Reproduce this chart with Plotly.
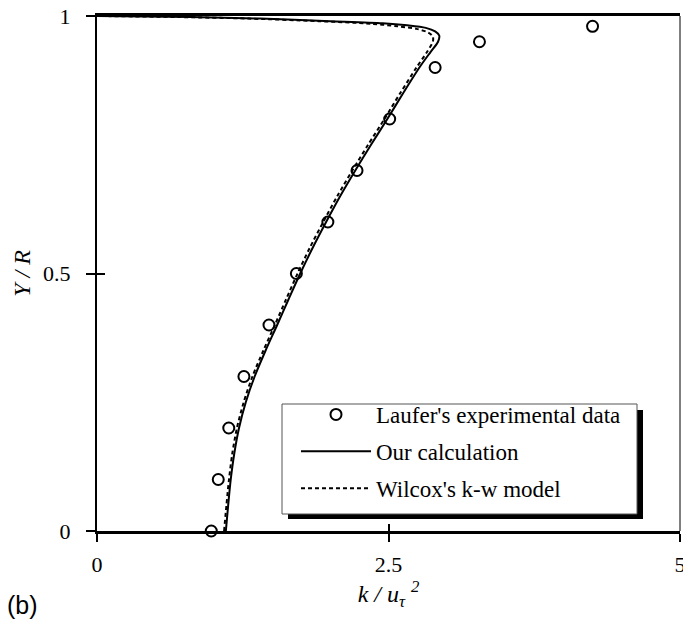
import plotly.graph_objects as go

# ---- data ----
laufer_k = [0.98, 1.04, 1.13, 1.26, 1.475, 1.71, 1.98, 2.23, 2.51, 2.90, 3.28, 4.25]
laufer_y = [0.0, 0.1, 0.2, 0.3, 0.4, 0.5, 0.6, 0.7, 0.8, 0.9, 0.95, 0.98]

calc_y = [0.0, 0.05, 0.1, 0.15, 0.2, 0.25, 0.3, 0.35, 0.4, 0.45, 0.5, 0.55, 0.6, 0.65,
          0.7, 0.75, 0.8, 0.85, 0.9, 0.93, 0.95, 0.962, 0.97, 0.977, 0.982, 0.986,
          0.99, 0.995, 0.998, 1.0]
calc_k = [1.105, 1.125, 1.147, 1.177, 1.218, 1.276, 1.352, 1.445, 1.545, 1.643, 1.743, 1.85,
          1.965, 2.085, 2.215, 2.35, 2.49, 2.625, 2.765, 2.86, 2.925, 2.935, 2.9, 2.82,
          2.66, 2.45, 2.0, 1.4, 0.8, 0.0]

wil_y = [0.0, 0.05, 0.1, 0.15, 0.2, 0.25, 0.3, 0.35, 0.4, 0.45, 0.5, 0.55, 0.6, 0.65,
         0.7, 0.75, 0.8, 0.85, 0.9, 0.93, 0.95, 0.96, 0.968, 0.975, 0.98, 0.985,
         0.99, 0.995, 0.998, 1.0]
wil_k = [1.09, 1.11, 1.132, 1.16, 1.2, 1.258, 1.333, 1.426, 1.525, 1.622, 1.72, 1.825,
         1.94, 2.06, 2.19, 2.325, 2.465, 2.60, 2.74, 2.83, 2.88, 2.88, 2.84, 2.74,
         2.58, 2.35, 1.9, 1.3, 0.7, 0.0]

x_ticks = [0, 2.5, 5]
x_ticktext = ["0", "2.5", "5"]
y_ticks = [0, 0.5, 1]
y_ticktext = ["0", "0.5", "1"]

SERIF = "Liberation Serif"

fig = go.Figure()
fig.add_trace(go.Scatter(
    x=laufer_k, y=laufer_y, mode="markers", name="Laufer's experimental data",
    marker=dict(symbol="circle-open", size=11, color="black", line=dict(width=2, color="black")),
    cliponaxis=False, legendgroup="a"))
fig.add_trace(go.Scatter(
    x=calc_k, y=calc_y, mode="lines", name="Our calculation",
    line=dict(color="black", width=2, shape="spline", smoothing=0.8), legendgroup="b"))
fig.add_trace(go.Scatter(
    x=wil_k, y=wil_y, mode="lines", name="Wilcox's k-w model",
    line=dict(color="black", width=2, dash="4px,3px", shape="spline", smoothing=0.8),
    legendgroup="c"))
# helper trace for the overlay axes (inside half of the crossing ticks)
fig.add_trace(go.Scatter(x=[None], y=[None], xaxis="x2", yaxis="y2", showlegend=False,
                         hoverinfo="skip"))

# plot-area pixel geometry
L, R, T, B = 97, 680, 16, 531
W, H = 683, 633
def px(x):
    return (x - L) / (R - L)
def py(y):
    return (B - y) / (B - T)

tickfont = dict(family=SERIF, size=22, color="black")

fig.update_layout(
    width=W, height=H,
    margin=dict(l=L, r=W - R, t=T, b=H - B, autoexpand=False),
    paper_bgcolor="white", plot_bgcolor="white",
    font=dict(family=SERIF, size=22, color="black"),
    xaxis=dict(range=[0, 5], tickvals=x_ticks, ticktext=x_ticktext, ticks="outside",
               ticklen=8, tickwidth=1.5, tickcolor="black", showline=True, linewidth=2.5,
               linecolor="black", mirror=True, showgrid=False, zeroline=False,
               automargin=False,
               ticklabelstandoff=4, ticklabeloverflow="allow", tickfont=tickfont,
               title=dict(text="k / u<sub>τ</sub> <sup>2</sup>", standoff=8,
                          font=dict(family=SERIF, size=24, style="italic"))),
    yaxis=dict(range=[0, 1], tickvals=y_ticks, ticktext=y_ticktext, ticks="outside",
               ticklen=9, tickwidth=1.5, tickcolor="black", showline=True, linewidth=2,
               linecolor="black", showgrid=False, zeroline=False,
               automargin=False,
               ticklabelstandoff=11, ticklabeloverflow="allow", tickfont=tickfont,
               title=dict(text="Y / R", standoff=6,
                          font=dict(family=SERIF, size=24, style="italic"))),
    xaxis2=dict(range=[0, 5], overlaying="x", anchor="y", side="bottom", tickvals=[2.5],
                ticks="inside", ticklen=7, tickwidth=1.5, tickcolor="black",
                showticklabels=False, showline=False, showgrid=False, zeroline=False,
                automargin=False),
    yaxis2=dict(range=[0, 1], overlaying="y", anchor="x", side="left", tickvals=[0.5],
                ticks="inside", ticklen=8, tickwidth=1.5, tickcolor="black",
                showticklabels=False, showline=False, showgrid=False, zeroline=False,
                automargin=False),
    legend=dict(x=px(296), y=py(393), xanchor="left", yanchor="top",
                bgcolor="rgba(0,0,0,0)", borderwidth=0,
                font=dict(family=SERIF, size=23), itemwidth=70,
                tracegroupgap=4),
    showlegend=True,
)

# legend drop shadow and frame
fig.add_shape(type="rect", xref="paper", yref="paper",
              x0=px(288), x1=px(643), y0=py(519), y1=py(410),
              fillcolor="black", line=dict(width=0), layer="above")
fig.add_shape(type="rect", xref="paper", yref="paper",
              x0=px(282), x1=px(637), y0=py(514), y1=py(404),
              fillcolor="white", line=dict(width=1, color="#555"), layer="above")
# thin right frame line
fig.add_shape(type="line", xref="paper", yref="paper", x0=1, x1=1, y0=0, y1=1,
              line=dict(color="black", width=1))

fig.add_annotation(text="(b)", xref="paper", yref="paper", x=px(5), y=py(605),
                   xanchor="left", yanchor="middle", showarrow=False,
                   font=dict(family="Liberation Sans", size=25, color="black"))

fig.write_html("out.html")
